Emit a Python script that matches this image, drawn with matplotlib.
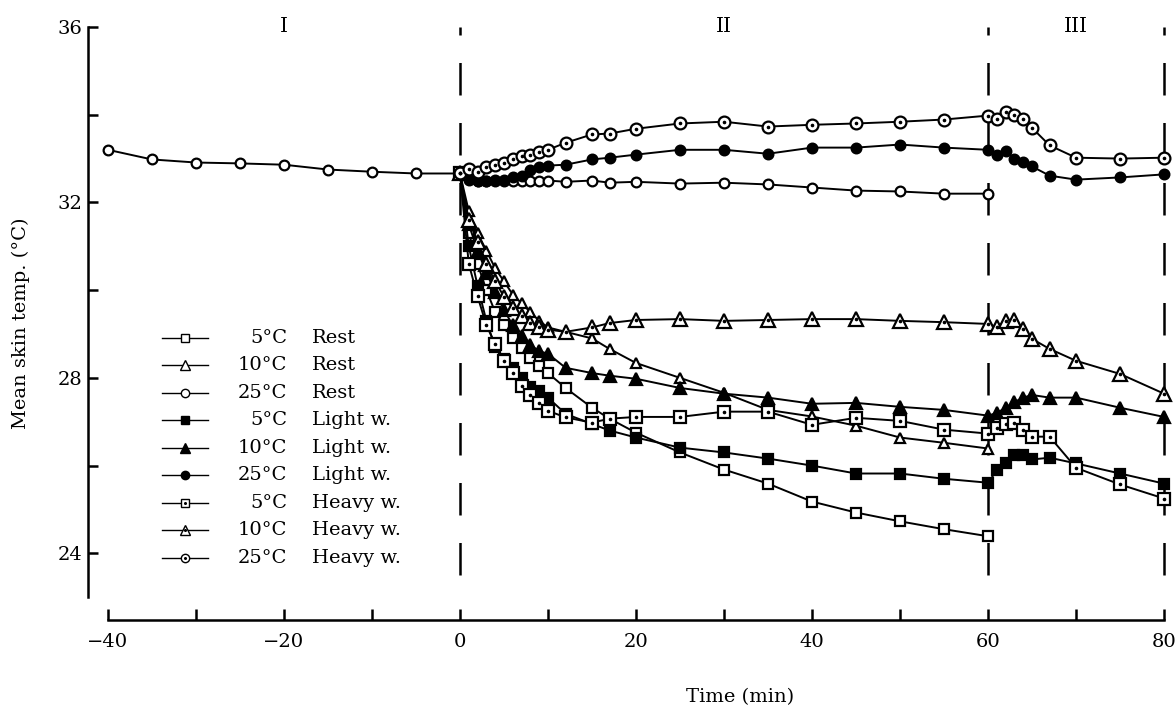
import matplotlib
matplotlib.use("Agg")
import matplotlib.pyplot as plt
from matplotlib.lines import Line2D

plt.rcParams['font.family'] = ['DejaVu Serif']

# period I (common baseline, 25 C rest)
t_pre = [-40, -35, -30, -25, -20, -15, -10, -5, 0]
pre = [33.2, 32.98, 32.91, 32.89, 32.86, 32.75, 32.70, 32.66, 32.66]

# period II and III times (min)
t2 = [0, 1, 2, 3, 4, 5, 6, 7, 8, 9, 10, 12, 15, 17, 20, 25, 30, 35, 40, 45, 50, 55, 60]
t3 = [61, 62, 63, 64, 65, 67, 70, 75, 80]

rest5 = [32.66, 31.3, 30.6, 30.0, 29.5, 29.2, 28.9, 28.68, 28.45, 28.27, 28.11, 27.77,
         27.32, 27.07, 26.75, 26.3, 25.91, 25.59, 25.18, 24.93, 24.73, 24.55, 24.39]
rest10 = [32.66, 31.8, 31.3, 30.9, 30.5, 30.2, 29.9, 29.7, 29.5, 29.3, 29.15, 29.05,
          28.9, 28.66, 28.34, 28.0, 27.66, 27.27, 27.12, 26.91, 26.64, 26.52, 26.39]
rest25 = [32.66, 32.55, 32.5, 32.5, 32.5, 32.5, 32.5, 32.5, 32.5, 32.5, 32.5, 32.47,
          32.5, 32.45, 32.47, 32.43, 32.45, 32.41, 32.34, 32.27, 32.25, 32.2, 32.2]

light5 = [32.66, 31.0, 30.1, 29.3, 28.7, 28.43, 28.23, 28.0, 27.8, 27.7, 27.55, 27.18,
          26.95, 26.8, 26.64, 26.41, 26.3, 26.16, 26.0, 25.82, 25.82, 25.7, 25.61,
          25.89, 26.05, 26.25, 26.25, 26.14, 26.18, 26.05, 25.82, 25.59]
light10 = [32.66, 31.5, 30.9, 30.4, 29.95, 29.55, 29.2, 28.95, 28.75, 28.61, 28.55, 28.23,
           28.11, 28.05, 27.98, 27.77, 27.64, 27.55, 27.41, 27.43, 27.34, 27.27, 27.14,
           27.2, 27.32, 27.45, 27.55, 27.61, 27.55, 27.55, 27.32, 27.11]
light25 = [32.66, 32.52, 32.5, 32.5, 32.52, 32.52, 32.57, 32.61, 32.75, 32.8, 32.84, 32.86,
           32.98, 33.02, 33.09, 33.2, 33.2, 33.11, 33.25, 33.25, 33.32, 33.25, 33.2,
           33.09, 33.18, 33.0, 32.93, 32.82, 32.61, 32.52, 32.57, 32.64]

heavy5 = [32.66, 30.6, 29.86, 29.2, 28.77, 28.39, 28.11, 27.82, 27.6, 27.43, 27.25, 27.1,
          26.98, 27.07, 27.11, 27.11, 27.23, 27.23, 26.93, 27.09, 27.02, 26.82, 26.73,
          26.86, 26.95, 26.98, 26.82, 26.66, 26.66, 25.95, 25.57, 25.25]
heavy10 = [32.66, 31.6, 31.1, 30.6, 30.2, 29.85, 29.6, 29.4, 29.25, 29.15, 29.1, 29.05,
           29.15, 29.25, 29.32, 29.34, 29.3, 29.32, 29.34, 29.34, 29.3, 29.27, 29.23,
           29.16, 29.3, 29.32, 29.11, 28.89, 28.66, 28.39, 28.09, 27.64]
heavy25 = [32.66, 32.77, 32.7, 32.8, 32.86, 32.91, 33.0, 33.05, 33.09, 33.14, 33.2, 33.36,
           33.55, 33.57, 33.68, 33.8, 33.84, 33.73, 33.77, 33.8, 33.84, 33.89, 33.98,
           33.9, 34.07, 34.0, 33.9, 33.7, 33.3, 33.02, 33.0, 33.02]

leg_temps = ['5°C', '10°C', '25°C', '5°C', '10°C', '25°C', '5°C', '10°C', '25°C']
leg_conds = ['Rest', 'Rest', 'Rest', 'Light w.', 'Light w.', 'Light w.',
             'Heavy w.', 'Heavy w.', 'Heavy w.']
periods = ['I', 'II', 'III']
period_x = [-20, 30, 70]
boundaries = [0, 60, 80]

t_full = t2 + t3
# (times, values, marker, filled, dotted, size)
series = [
    (t2, rest5, 's', False, False, 7),
    (t2, rest10, '^', False, False, 7.5),
    (t2, rest25, 'o', False, False, 7),
    (t_full, light5, 's', True, False, 6.5),
    (t_full, light10, '^', True, False, 8),
    (t_full, light25, 'o', True, False, 7),
    (t_full, heavy5, 's', False, True, 8.5),
    (t_full, heavy10, '^', False, True, 9.5),
    (t_full, heavy25, 'o', False, True, 8.5),
]

fig = plt.figure(figsize=(11.76, 7.12), dpi=100)
ax = fig.add_axes([0.0748, 0.1292, 0.9252, 0.8329])

for b in boundaries:
    ax.plot([b, b], [23.5, 36], color='black', lw=1.8, dashes=(13, 11), clip_on=False)

ax.plot(t_pre, pre, color='black', lw=1.4, marker='o', ms=7, mfc='white',
        mec='black', mew=1.6, clip_on=False, zorder=3)

for tt, vals, mk, filled, dotted, ms in series:
    ax.plot(tt, vals, color='black', lw=1.4, marker=mk, ms=ms,
            mfc='black' if filled else 'white', mec='black', mew=1.6,
            clip_on=False, zorder=3)
    if dotted:
        ax.plot(tt, vals, ls='none', marker='o', ms=1.6, mfc='black', mec='black',
                clip_on=False, zorder=4)

# legend drawn by hand
row_y = 0.4758
dy = 0.0464
for i, (tmp, cond) in enumerate(zip(leg_temps, leg_conds)):
    yy = row_y - i * dy
    mk, filled, dotted = series[i][2], series[i][3], series[i][4]
    ax.add_line(Line2D([0.068, 0.11], [yy, yy], transform=ax.transAxes, color='black',
                       lw=1.0, marker=None))
    ax.add_line(Line2D([0.089], [yy], transform=ax.transAxes, color='black', ls='none',
                       marker=mk, ms=6.5 if mk == '^' else 6, mew=1.0,
                       mfc='black' if filled else 'white', mec='black'))
    if dotted:
        ax.add_line(Line2D([0.089], [yy], transform=ax.transAxes, ls='none', marker='o',
                           ms=1.2, mfc='black', mec='black'))
    ax.text(0.183, yy, tmp, transform=ax.transAxes, ha='right', va='center', fontsize=14)
    ax.text(0.206, yy, cond, transform=ax.transAxes, ha='left', va='center', fontsize=14)

for lab, px in zip(periods, period_x):
    ax.text(px, 36, lab, ha='center', va='center', fontsize=14.5, clip_on=False)

ax.set_xlim(-42.27, 81.36)
ax.set_ylim(22.48, 36)
for s in ['top', 'right']:
    ax.spines[s].set_visible(False)
ax.spines['left'].set_bounds(23, 36)
ax.spines['bottom'].set_bounds(-40, 80)
ax.spines['left'].set_linewidth(1.8)
ax.spines['bottom'].set_linewidth(1.8)

ax.set_xticks(range(-40, 81, 20))
ax.set_xticks(range(-40, 81, 10), minor=True)
ax.set_xticklabels(['−40', '−20', '0', '20', '40', '60', '80'])
ax.set_yticks([24, 28, 32, 36])
ax.set_yticks(range(24, 37, 2), minor=True)
ax.tick_params(axis='both', which='both', direction='in', width=1.8, labelsize=14)
ax.tick_params(axis='x', which='both', length=8, pad=9)
ax.tick_params(axis='y', which='both', length=7, pad=4)

ax.set_xlabel('Time (min)', fontsize=14)
ax.xaxis.set_label_coords(0.599, -0.115)
ax.set_ylabel('Mean skin temp. (°C)', fontsize=14)
ax.yaxis.set_label_coords(-0.053, 0.5)

fig.savefig('out.png', dpi=100)
